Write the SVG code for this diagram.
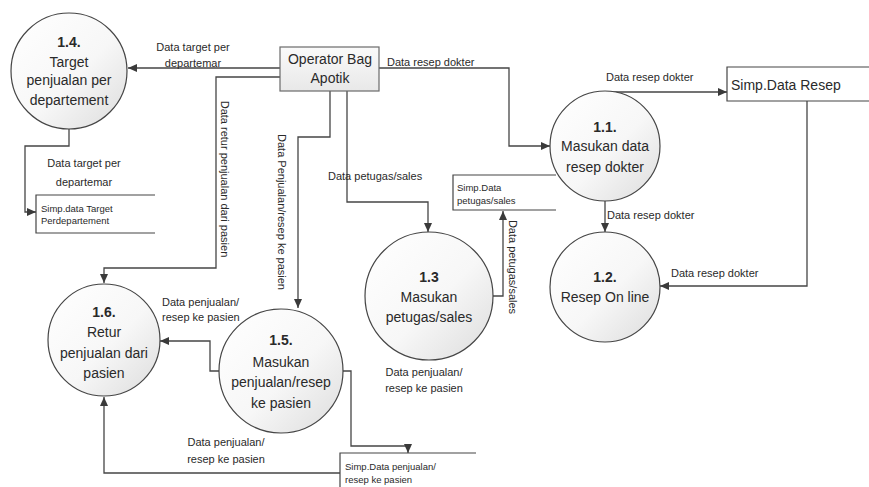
<svg xmlns="http://www.w3.org/2000/svg" width="869" height="487" viewBox="0 0 869 487">
<style>
text{font-family:"Liberation Sans",Arial,sans-serif;fill:#2a2a2a}
.proc{stroke:#454545;stroke-width:1.2;fill:url(#cg)}
.pt{font-size:14px;text-anchor:middle}
.pn{font-size:14px;font-weight:bold;text-anchor:middle}
.lb{font-size:11px}
.lbc{font-size:11px;text-anchor:middle}
.st{fill:none;stroke:#454545;stroke-width:1.2}
.sl{font-size:9.5px}
.c{fill:none;stroke:#454545;stroke-width:1.3;marker-end:url(#ah)}
</style>
<defs>
<linearGradient id="cg" x1="0" y1="0" x2="1" y2="1">
<stop offset="0" stop-color="#ffffff"/>
<stop offset="0.55" stop-color="#f7f7f7"/>
<stop offset="1" stop-color="#dcdcdc"/>
</linearGradient>
<linearGradient id="bg" x1="0" y1="0" x2="0" y2="1">
<stop offset="0" stop-color="#fafafa"/>
<stop offset="1" stop-color="#e8e8e8"/>
</linearGradient>
<marker id="ah" markerUnits="userSpaceOnUse" markerWidth="10" markerHeight="10" refX="9" refY="5" orient="auto">
<path d="M0,1 L9,5 L0,9 Z" fill="#3a3a3a"/>
</marker>
</defs>
<rect width="869" height="487" fill="#ffffff"/>

<g id="connectors">
<path class="c" d="M280,68 H128"/>
<path class="c" d="M69,129 V146 H25 V212 H36"/>
<path class="c" d="M280,77 H216 V268 H104 V283"/>
<path class="c" d="M330,91 V137 H298 V308"/>
<path class="c" d="M347,91 V202 H428 V232"/>
<path class="c" d="M379,68 H509 V146 H550"/>
<path class="c" d="M605,92 H727"/>
<path class="c" d="M605,201 V232"/>
<path class="c" d="M807,101 V286 H660"/>
<path class="c" d="M493,296 H503 V211"/>
<path class="c" d="M220,371 H210 V341 H160"/>
<path class="c" d="M343,371 H351 V446 H408 V453"/>
<path class="c" d="M340,473 H104 V397"/>
</g>

<g id="labels">
<text class="lbc" x="193" y="51">Data target per</text>
<text class="lbc" x="193" y="67">departemar</text>
<text class="lbc" x="84" y="167">Data target per</text>
<text class="lbc" x="84" y="186">departemar</text>
<text class="lb" x="387" y="66">Data resep dokter</text>
<text class="lb" x="606" y="81">Data resep dokter</text>
<text class="lb" x="607" y="219">Data resep dokter</text>
<text class="lb" x="671" y="277">Data resep dokter</text>
<text class="lb" x="328" y="180">Data petugas/sales</text>
<text class="lb" x="162" y="306">Data penjualan/</text>
<text class="lb" x="162" y="321">resep ke pasien</text>
<text class="lbc" x="424" y="376">Data penjualan/</text>
<text class="lbc" x="424" y="392">resep ke pasien</text>
<text class="lbc" x="226" y="446">Data penjualan/</text>
<text class="lbc" x="226" y="463">resep ke pasien</text>
<text class="lbc" transform="translate(225,179) rotate(90)" dominant-baseline="central">Data retur penjualan dari pasien</text>
<text class="lbc" transform="translate(282,212) rotate(90)" dominant-baseline="central">Data Penjualan/resep ke pasien</text>
<text class="lbc" transform="translate(513,267) rotate(90)" dominant-baseline="central">Data petugas/sales</text>
</g>

<g id="operator">
<rect x="280" y="47" width="99" height="44" fill="url(#bg)" stroke="#6a6a6a" stroke-width="1.2"/>
<text class="pt" x="330" y="64">Operator Bag</text>
<text class="pt" x="330" y="83">Apotik</text>
</g>

<g id="p1_4">
<circle class="proc" cx="69" cy="71" r="58"/>
<text class="pn" x="69" y="47">1.4.</text>
<text class="pt" x="69" y="67">Target</text>
<text class="pt" x="69" y="85">penjualan per</text>
<text class="pt" x="69" y="105">departement</text>
</g>

<g id="p1_1">
<circle class="proc" cx="605" cy="146" r="55"/>
<text class="pn" x="605" y="132">1.1.</text>
<text class="pt" x="605" y="151">Masukan data</text>
<text class="pt" x="605" y="172">resep dokter</text>
</g>

<g id="p1_2">
<circle class="proc" cx="605" cy="287" r="55"/>
<text class="pn" x="605" y="282">1.2.</text>
<text class="pt" x="605" y="302">Resep On line</text>
</g>

<g id="p1_3">
<circle class="proc" cx="429" cy="296" r="64"/>
<text class="pn" x="429" y="282">1.3</text>
<text class="pt" x="429" y="302">Masukan</text>
<text class="pt" x="429" y="322">petugas/sales</text>
</g>

<g id="p1_5">
<circle class="proc" cx="281" cy="371" r="62"/>
<text class="pn" x="281" y="345">1.5.</text>
<text class="pt" x="281" y="367">Masukan</text>
<text class="pt" x="281" y="387">penjualan/resep</text>
<text class="pt" x="281" y="408">ke pasien</text>
</g>

<g id="p1_6">
<circle class="proc" cx="104" cy="340" r="56"/>
<text class="pn" x="104" y="317">1.6.</text>
<text class="pt" x="104" y="337">Retur</text>
<text class="pt" x="104" y="358">penjualan dari</text>
<text class="pt" x="104" y="378">pasien</text>
</g>

<g id="store_target">
<path class="st" d="M155,195 H36 V233 H155"/>
<text class="sl" x="41" y="212">Simp.data Target</text>
<text class="sl" x="41" y="224">Perdepartement</text>
</g>

<g id="store_resep">
<path class="st" d="M869,67 H727 V101 H869"/>
<text x="731" y="90" font-size="14">Simp.Data Resep</text>
</g>

<g id="store_petugas">
<path class="st" d="M556,175 H453 V210 H556"/>
<text class="sl" x="457" y="191">Simp.Data</text>
<text class="sl" x="457" y="204">petugas/sales</text>
</g>

<g id="store_penjualan">
<path class="st" d="M476,453 H340 V487"/>
<text class="sl" x="345" y="470">Simp.Data penjualan/</text>
<text class="sl" x="345" y="483">resep ke pasien</text>
</g>
</svg>
